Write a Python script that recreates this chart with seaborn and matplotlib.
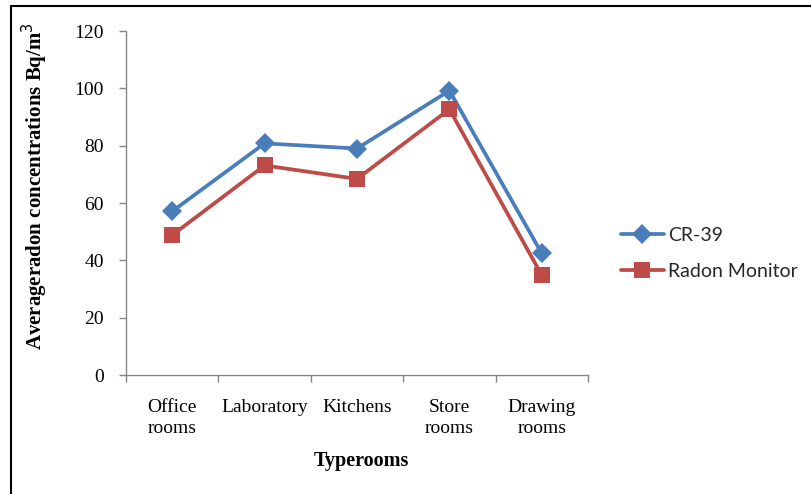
import matplotlib
matplotlib.use("Agg")
import matplotlib.pyplot as plt
from matplotlib.lines import Line2D
from matplotlib.ticker import FixedLocator
import seaborn as sns
import pandas as pd

# Room types and mean radon concentrations (Bq/m^3)
rooms = ["Office\nrooms", "Laboratory", "Kitchens", "Store\nrooms", "Drawing\nrooms"]
cr39 = [57.1, 80.8, 79.0, 99.2, 42.4]
radon_monitor = [48.8, 73.1, 68.4, 92.7, 34.8]
series_names = ["CR-39", "Radon Monitor"]
y_ticks = [0, 20, 40, 60, 80, 100, 120]

sns.set_theme(style="white")
plt.rcParams["font.family"] = ["Liberation Serif", "DejaVu Serif"]

fig = plt.figure(figsize=(8.11, 4.94), dpi=100)
ax = fig.add_axes([126 / 811, 1 - 375 / 494, (588 - 126) / 811, (375 - 31) / 494])

df_cr = pd.DataFrame({"room": rooms, "value": cr39})
df_rm = pd.DataFrame({"room": rooms, "value": radon_monitor})

sns.lineplot(data=df_cr, x="room", y="value", ax=ax, color="#4A7EBB",
             linewidth=2.7, marker="D", markersize=10.5, markeredgewidth=0,
             label=series_names[0], sort=False)
sns.lineplot(data=df_rm, x="room", y="value", ax=ax, color="#BE4B48",
             linewidth=2.7, marker="s", markersize=11.5, markeredgewidth=0,
             label=series_names[1], sort=False)

ax.set_xlim(-0.5, len(rooms) - 0.5)
ax.set_ylim(0, 120)
ax.set_yticks(y_ticks)

# Spines: only left and bottom, thin grey
for side in ["top", "right"]:
    ax.spines[side].set_visible(False)
for side in ["left", "bottom"]:
    ax.spines[side].set_color("#868686")
    ax.spines[side].set_linewidth(1.0)

# Category labels at centres, tick marks at category boundaries
ax.xaxis.set_minor_locator(FixedLocator([i - 0.5 for i in range(len(rooms) + 1)]))
ax.tick_params(axis="x", which="major", length=0, pad=17, labelsize=14,
               labelcolor="black")
ax.tick_params(axis="x", which="minor", bottom=True, length=5, width=1,
               color="#868686", direction="out")
ax.tick_params(axis="y", which="major", left=True, length=5, width=1,
               color="#868686", direction="out", pad=11, labelsize=14,
               labelcolor="black")
for lbl in ax.get_xticklabels():
    lbl.set_linespacing(1.3)

ax.set_ylabel("Averageradon concentrations Bq/m$^3$", fontsize=15,
              fontweight="bold", color="black")
ax.yaxis.set_label_coords(-0.165, 0.55)
ax.set_xlabel("Typerooms", fontsize=14.5, fontweight="bold", color="black")
ax.xaxis.set_label_coords(0.51, -0.22)

leg = ax.legend(loc="center left", bbox_to_anchor=(621 / 811, 1 - 253.5 / 494),
                bbox_transform=fig.transFigure, frameon=False, borderpad=0,
                borderaxespad=0, handlelength=2.2, handletextpad=0.2,
                labelspacing=0.95, prop={"family": "Lato", "size": 14})

# Outer frame lines (top and left edges)
fig.add_artist(Line2D([11 / 811, 1.0], [1 - 6 / 494, 1 - 6 / 494],
                      transform=fig.transFigure, color="black", linewidth=1.5))
fig.add_artist(Line2D([11 / 811, 11 / 811], [0.0, 1 - 6 / 494],
                      transform=fig.transFigure, color="black", linewidth=1.5))

fig.savefig("out.png", dpi=100, facecolor="white")
